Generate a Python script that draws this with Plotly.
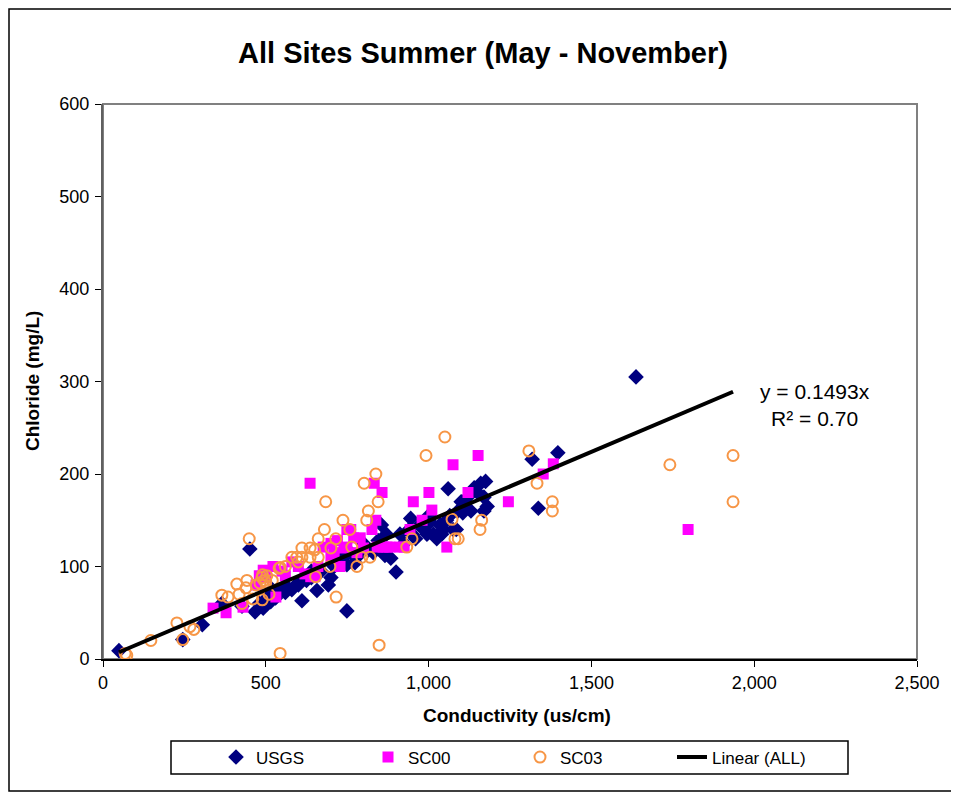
import plotly.graph_objects as go

# ---------------- data ----------------
usgs_x = [49, 245, 305, 365, 427, 451, 467, 492, 480, 500, 510, 520, 530, 550, 565, 580, 598, 611, 625, 640,
          657, 670, 692, 700, 710, 720, 735, 749, 749, 760, 774, 785, 800, 815, 830, 845, 855, 866, 870, 884,
          900, 912, 925, 940, 945, 950, 960, 972, 985, 995, 1000, 1005, 1015, 1025, 1035, 1040, 1045, 1055,
          1060, 1065, 1075, 1085, 1090, 1100, 1105, 1110, 1120, 1130, 1140, 1150, 1160, 1170, 1170, 1175,
          1180, 1318, 1337, 1397, 1637, 640, 600, 560, 515, 745]
usgs_y = [9, 21, 37, 60, 57, 119, 51, 55, 60, 65, 70, 75, 66, 75, 78, 75, 82, 63, 85, 88,
          74, 95, 80, 88, 100, 105, 110, 102, 52, 115, 104, 112, 125, 118, 115, 128, 145, 112, 135, 109,
          94, 135, 125, 140, 152, 135, 130, 145, 140, 135, 155, 148, 135, 130, 145, 135, 140, 150,
          184, 155, 140, 140, 160, 170, 158, 165, 175, 160, 185, 180, 190, 175, 160, 192,
          165, 216, 163, 223, 305, 95, 80, 72, 62, 112]

sc00_x = [338, 378, 430, 470, 480, 492, 497, 500, 522, 531, 550, 560, 580, 600, 620, 636, 638, 651, 660, 676,
          700, 700, 710, 720, 728, 740, 749, 749, 761, 770, 780, 790, 800, 826, 833, 838, 842, 857, 860, 872,
          881, 912, 925, 943, 953, 980, 1001, 1010, 1056, 1075, 1121, 1152, 1245, 1352, 1383, 1797]
sc00_y = [55, 50, 56, 80, 90, 96, 95, 88, 100, 67, 95, 90, 105, 100, 92, 190, 89, 89, 100, 121,
          110, 125, 115, 128, 100, 120, 140, 121, 140, 131, 115, 131, 120, 140, 190, 150, 121, 180, 121, 121,
          121, 121, 121, 140, 170, 150, 180, 161, 121, 210, 180, 220, 170, 200, 211, 140]

sc03_x = [68, 73, 147, 227, 245, 267, 279, 365, 384, 411, 418, 427, 439, 442, 449, 460, 470, 482, 488, 490,
          495, 500, 503, 489, 510, 520, 541, 544, 544, 560, 580, 595, 600, 611, 611, 636, 636, 650, 653, 661,
          661, 680, 684, 697, 700, 715, 716, 737, 758, 764, 780, 795, 802, 810, 815, 820, 838, 845, 848, 933,
          949, 992, 1050, 1072, 1081, 1091, 1158, 1163, 1308, 1333, 1380, 1380, 1741, 1935, 1935]
sc03_y = [6, 4, 20, 39, 21, 35, 32, 69, 67, 81, 70, 60, 77, 85, 130, 65, 80, 82, 88, 91,
          85, 83, 90, 64, 70, 85, 98, 99, 6, 100, 110, 110, 105, 110, 120, 110, 120, 118, 89, 110,
          130, 140, 170, 100, 120, 130, 67, 150, 140, 121, 100, 110, 190, 150, 160, 110, 200, 170, 15, 121,
          130, 220, 240, 151, 130, 130, 140, 150, 225, 190, 170, 160, 210, 220, 170]

slope = 0.1493
all_x = usgs_x + sc00_x + sc03_x
fit_x = [min(all_x), max(all_x)]
fit_y = [slope * v for v in fit_x]

FONT = "Liberation Sans, Arial, sans-serif"

fig = go.Figure()
fig.add_trace(go.Scatter(x=usgs_x, y=usgs_y, mode="markers", name="USGS",
                         marker=dict(symbol="diamond", size=12, color="#000080")))
fig.add_trace(go.Scatter(x=sc00_x, y=sc00_y, mode="markers", name="SC00",
                         marker=dict(symbol="square", size=11, color="#FF00FF")))
fig.add_trace(go.Scatter(x=sc03_x, y=sc03_y, mode="markers", name="SC03",
                         marker=dict(symbol="circle-open", size=11, color="#F79646",
                                     line=dict(width=2, color="#F79646"))))
fig.add_trace(go.Scatter(x=fit_x, y=fit_y, mode="lines", name="Linear (ALL)",
                         line=dict(color="black", width=4)))

# page has an 8px body margin; plot area on screen: x 103..917, y 104..659
OFF = 8
W, H = 959 - OFF, 793 - OFF

def px(xs):
    return (xs - 103) / 814

def py(ys):
    return (659 - ys) / 555

fig.update_layout(
    width=W, height=H,
    margin=dict(l=103 - OFF, r=W - (917 - OFF), t=104 - OFF, b=H - (659 - OFF)),
    paper_bgcolor="white", plot_bgcolor="white",
    font=dict(family=FONT, size=17, color="black"),
    title=dict(text="<b>All Sites Summer (May - November)</b>", x=(483 - OFF) / W, xref="container",
               y=1 - (53 - OFF) / H, yref="container", xanchor="center", yanchor="middle",
               font=dict(size=29, family=FONT, color="black")),
    showlegend=True,
    legend=dict(orientation="h", x=px(520), xanchor="center", y=py(757.5), yanchor="middle",
                bgcolor="rgba(0,0,0,0)", borderwidth=0, font=dict(size=17, family=FONT),
                entrywidth=107, entrywidthmode="pixels"),
    xaxis=dict(range=[0, 2500], dtick=500, tickformat=",", showgrid=False, zeroline=False,
               showline=True, linecolor="black", linewidth=2, ticks="outside", ticklen=6,
               tickcolor="black", tickfont=dict(size=18), fixedrange=True),
    yaxis=dict(range=[0, 600], dtick=100, showgrid=False, zeroline=False,
               showline=True, linecolor="#606060", linewidth=2, ticks="outside", ticklen=6,
               tickcolor="black", tickfont=dict(size=18), ticklabelstandoff=2, fixedrange=True),
    shapes=[
        dict(type="rect", xref="paper", yref="paper", x0=0, x1=1, y0=0, y1=1,
             line=dict(color="#808080", width=2), layer="below"),
        dict(type="rect", xref="paper", yref="paper", x0=px(171), x1=px(848), y0=py(774), y1=py(741),
             line=dict(color="black", width=1.5)),
        dict(type="rect", xref="paper", yref="paper", x0=px(9), x1=px(957), y0=py(791), y1=py(9),
             line=dict(color="black", width=1.5)),
    ],
    annotations=[
        dict(text="<b>Conductivity (us/cm)</b>", xref="paper", yref="paper", x=px(517), y=py(715),
             showarrow=False, xanchor="center", yanchor="middle", font=dict(size=19)),
        dict(text="<b>Chloride (mg/L)</b>", xref="paper", yref="paper", x=px(32), y=py(381),
             showarrow=False, xanchor="center", yanchor="middle", textangle=-90, font=dict(size=19)),
        dict(text="y = 0.1493x<br>R² = 0.70", xref="paper", yref="paper", x=px(815), y=py(405),
             showarrow=False, xanchor="center", yanchor="middle", align="center",
             font=dict(size=21)),
    ],
)

fig.write_html("out.html")
